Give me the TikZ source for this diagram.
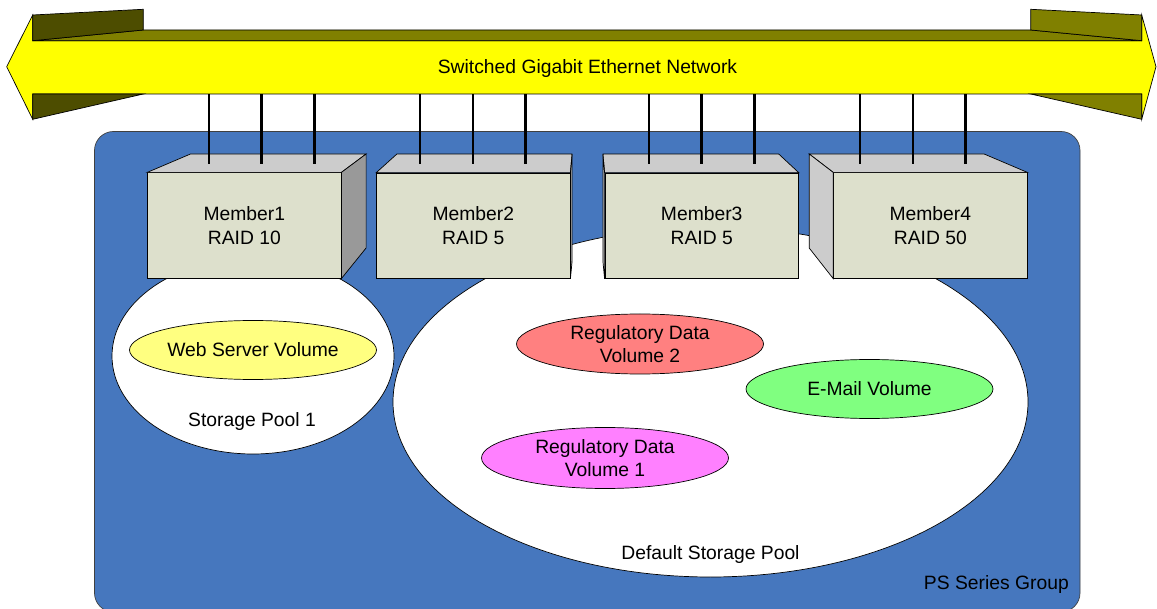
\documentclass[tikz,border=0pt]{standalone}
\usepackage{fontspec}
\setmainfont{Liberation Sans}
\usetikzlibrary{shapes.geometric,calc}
\definecolor{grpblue}{RGB}{70,119,190}
\definecolor{frontc}{RGB}{221,224,204}
\definecolor{topc}{RGB}{204,204,204}
\definecolor{sidedark}{RGB}{153,153,153}
\definecolor{olivec}{RGB}{128,128,0}
\definecolor{darkolive}{RGB}{77,77,0}
\definecolor{netyellow}{RGB}{255,255,0}
\definecolor{webc}{RGB}{255,255,128}
\definecolor{reg2c}{RGB}{255,128,128}
\definecolor{mailc}{RGB}{128,255,128}
\definecolor{reg1c}{RGB}{255,128,255}
\tikzset{
  outl/.style={draw=black, line width=0.7pt, line join=miter},
  pool/.style={ellipse, outl, fill=white, inner sep=0pt},
  vol/.style={ellipse, outl, inner sep=0pt, align=center, minimum width=247pt, minimum height=60pt},
  member/.style={rectangle, outl, fill=frontc, inner sep=0pt, align=center, minimum width=193.5pt, minimum height=105.5pt},
  topface/.style={outl, fill=topc},
  cable/.style={draw=black, line width=2.6pt},
  lbl/.style={inner sep=0pt, align=center, yshift=-1.5pt}
}
\begin{document}
\begin{tikzpicture}[x=1pt,y=-1pt, font=\fontsize{19.3}{23.5}\selectfont]
\useasboundingbox (0,0) rectangle (1157,609);

% group
\draw[rounded corners=19pt, fill=grpblue, draw=black!75, line width=0.7pt] (94.5,131.5) rectangle (1080,612);
\node[lbl, anchor=east] (grp) at (1069,583) {PS Series Group};

% pools
\node[pool, minimum width=282pt, minimum height=196pt] (pool1) at (253,356) {};
\node[pool, minimum width=635pt, minimum height=350pt] (pool0) at (710.5,402) {};
\node[lbl] (pool1lbl) at (252,420.5) {Storage Pool 1};
\node[lbl] (pool0lbl) at (710.5,553) {Default Storage Pool};

% volumes
\node[vol, fill=webc, minimum height=59pt] (web) at (253,350) {Web Server Volume};
\node[vol, fill=reg2c] (reg2) at (640,344) {Regulatory Data\\Volume 2};
\node[vol, fill=mailc, minimum height=59pt] (mail) at (869.5,389) {E-Mail Volume};
\node[vol, fill=reg1c, minimum height=61pt] (reg1) at (605,458) {Regulatory Data\\Volume 1};

% members
\node[member] (m1) at (244.3,225.5) {Member1\\RAID 10};
\node[member] (m2) at (473.3,225.8) {Member2\\RAID 5};
\node[member] (m3) at (701.7,225.8) {Member3\\RAID 5};
\node[member] (m4) at (930.3,225.5) {Member4\\RAID 50};

% member 1 faces
\filldraw[topface] (m1.north west) -- ++(43.3,-18.4) -- ($(m1.north east)+(24.7,-18.4)$) -- (m1.north east) -- cycle;
\filldraw[outl, fill=sidedark] (m1.north east) -- ++(24.7,-18.4) -- ++(0,94) -- (m1.south east) -- cycle;
% member 2 faces
\filldraw[topface] (m2.north west) -- ++(20.6,-18.6) -- ($(m2.north east)+(1.7,-18.6)$) -- (m2.north east) -- cycle;
\filldraw[outl, fill=sidedark] (m2.north east) -- ++(1.7,-18.6) -- ++(0,107) -- (m2.south east) -- cycle;
% member 3 faces
\filldraw[topface] (m3.north west) -- ++(-1.7,-18.6) -- ($(m3.north east)+(-20,-18.6)$) -- (m3.north east) -- cycle;
\filldraw[topface] (m3.north west) -- ++(-1.7,-18.6) -- ++(0,107) -- (m3.south west) -- cycle;
% member 4 faces
\filldraw[topface] (m4.north west) -- ++(-24,-18.4) -- ($(m4.north east)+(-43.3,-18.4)$) -- (m4.north east) -- cycle;
\filldraw[topface] (m4.north west) -- ++(-24,-18.4) -- ++(0,94) -- (m4.south west) -- cycle;

% network arrow
\filldraw[outl, fill=netyellow] (6.7,66.7) -- (32.7,15) -- (32.7,40.7) -- (1141.7,40.7) -- (1141.7,15) -- (1156,66.7)
  -- (1141.7,119.3) -- (1141.7,94) -- (32.7,94) -- (32.7,119.3) -- cycle;
\filldraw[outl, fill=olivec] (32.7,40.7) -- (143.3,30) -- (1030.7,30) -- (1141.7,40.7) -- cycle;
\filldraw[outl, fill=darkolive] (32.7,15) -- (143.3,9.3) -- (143.3,30) -- (32.7,40.7) -- cycle;
\filldraw[outl, fill=olivec] (1030.7,9.3) -- (1141.7,15) -- (1141.7,40.7) -- (1030.7,30) -- cycle;
\filldraw[outl, fill=darkolive] (32.7,94) -- (143.3,94) -- (32.7,119.3) -- cycle;
\filldraw[outl, fill=olivec] (1030.7,94) -- (1141.7,94) -- (1141.7,119.3) -- cycle;
\node[lbl] (net) at (587.5,67) {Switched Gigabit Ethernet Network};

% cables
\foreach \i/\x in {a/209,b/261.7,c/314.3,d/420,e/473,f/525.7,g/649,h/701.7,k/754.3,l/860,n/913,o/965.7}{
  \coordinate (up\i) at (\x,94.5);
  \coordinate (dn\i) at (\x,164.5);
  \draw[cable] (up\i) -- (dn\i);
}
\end{tikzpicture}
\end{document}
